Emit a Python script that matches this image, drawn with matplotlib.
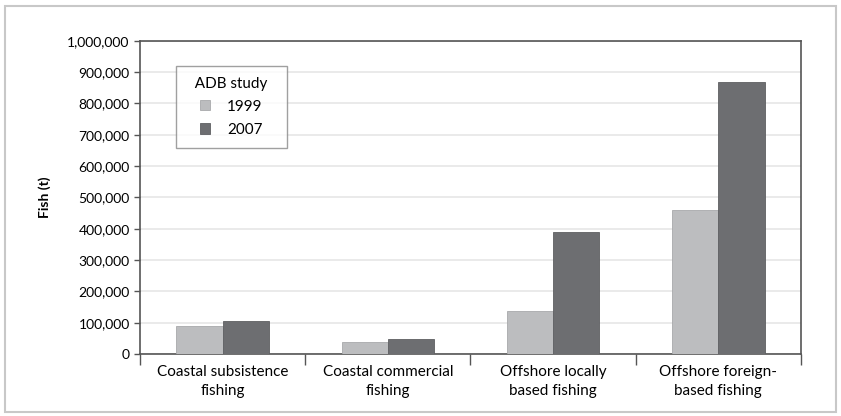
import numpy as np
import matplotlib
matplotlib.use("Agg")
import matplotlib.pyplot as plt
from matplotlib.patches import Rectangle
from matplotlib.ticker import FuncFormatter

plt.rcParams["font.family"] = ["Lato", "DejaVu Sans"]

categories = ["Coastal subsistence\nfishing", "Coastal commercial\nfishing",
              "Offshore locally\nbased fishing", "Offshore foreign-\nbased fishing"]
years = ["1999", "2007"]
fish_1999 = [90000, 38000, 136000, 461000]
fish_2007 = [106000, 47000, 391000, 868000]
colors = ["#bcbdbf", "#6d6e71"]


def main():
    fig = plt.figure(figsize=(8.41, 4.16), dpi=100)
    ax = fig.add_axes([0.1665, 0.149, 0.7859, 0.753])

    # outer frame round the figure
    fig.patches.append(Rectangle((5 / 841, 4 / 416), 831 / 841, 406 / 416,
                                 transform=fig.transFigure, fill=False,
                                 edgecolor="#c8c8c8", lw=1.5))

    x = np.arange(len(categories))
    w = 0.28
    ax.bar(x - w / 2, fish_1999, w, color=colors[0], edgecolor="#a8a9ab",
           lw=0.6, label=years[0], zorder=3)
    ax.bar(x + w / 2, fish_2007, w, color=colors[1], edgecolor="#5e5f62",
           lw=0.6, label=years[1], zorder=3)

    ax.set_xlim(-0.5, len(categories) - 0.5)
    ax.set_ylim(0, 1000000)
    ax.set_yticks(np.arange(0, 1000001, 100000))
    ax.yaxis.set_major_formatter(FuncFormatter(lambda v, p: f"{int(v):,}"))
    ax.grid(axis="y", color="#e6e6e6", lw=1.2, zorder=0)

    ax.set_xticks(x)
    ax.set_xticklabels(categories, fontsize=11, linespacing=1.45)
    ax.set_xticks(np.arange(-0.5, len(categories)), minor=True)
    ax.tick_params(axis="x", which="major", length=0, pad=8)
    ax.tick_params(axis="x", which="minor", length=8, width=1, color="#555555")
    ax.tick_params(axis="y", length=4, width=1, color="#555555", labelsize=10)

    for s in ax.spines.values():
        s.set_color("#555555")
        s.set_linewidth(1.2)

    ax.set_ylabel("Fish (t)", fontsize=10, fontweight="bold", labelpad=12)

    leg = ax.legend(title="  ADB study  ", loc="upper left",
                    bbox_to_anchor=(0.054, 0.92), fontsize=11,
                    title_fontsize=11, fancybox=False, edgecolor="#888888",
                    handlelength=0.65, handleheight=0.65, borderpad=0.75,
                    labelspacing=0.6, handletextpad=1.1, borderaxespad=0)
    leg.get_frame().set_linewidth(1.0)
    leg._legend_box.sep = 6

    fig.savefig("out.png", dpi=100)


if __name__ == "__main__":
    main()
